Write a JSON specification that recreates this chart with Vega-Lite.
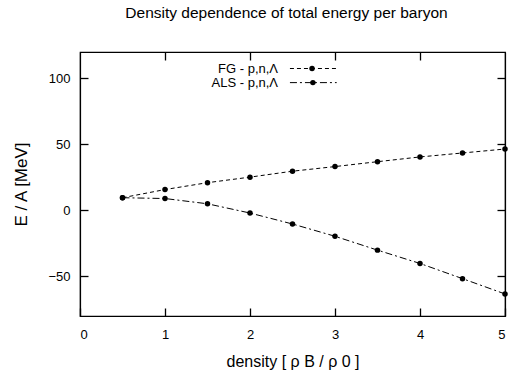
{
  "$schema": "https://vega.github.io/schema/vega-lite/v6.json",
  "autosize": "none",
  "width": 425,
  "height": 264,
  "padding": {"left": 80, "top": 52, "right": 4, "bottom": 60},
  "background": "white",
  "title": {"text": "Density dependence of total energy per baryon", "fontSize": 15.5, "fontWeight": "normal", "font": "Liberation Sans", "color": "black", "offset": 30, "anchor": "middle", "dx": -6},
  "config": {
    "font": "Liberation Sans",
    "view": {"stroke": "black", "strokeWidth": 1.2},
    "axis": {"domainColor": "black", "tickColor": "black", "labelColor": "black", "titleColor": "black", "grid": false, "labelFont": "Liberation Sans", "titleFont": "Liberation Sans", "labelFontSize": 13, "titleFontSize": 16, "titleFontWeight": "normal", "domainWidth": 1.2, "tickWidth": 1.3}
  },
  "datasets": {
    "curves": [
      {"series": "FG", "density": 0.5, "energy": 9.6},
      {"series": "FG", "density": 1.0, "energy": 15.8},
      {"series": "FG", "density": 1.5, "energy": 21.0},
      {"series": "FG", "density": 2.0, "energy": 25.2},
      {"series": "FG", "density": 2.5, "energy": 29.7},
      {"series": "FG", "density": 3.0, "energy": 33.2},
      {"series": "FG", "density": 3.5, "energy": 36.9},
      {"series": "FG", "density": 4.0, "energy": 40.5},
      {"series": "FG", "density": 4.5, "energy": 43.5},
      {"series": "FG", "density": 5.0, "energy": 46.5},
      {"series": "ALS", "density": 0.5, "energy": 9.6},
      {"series": "ALS", "density": 1.0, "energy": 9.0},
      {"series": "ALS", "density": 1.5, "energy": 5.0},
      {"series": "ALS", "density": 2.0, "energy": -2.0},
      {"series": "ALS", "density": 2.5, "energy": -10.3},
      {"series": "ALS", "density": 3.0, "energy": -19.6},
      {"series": "ALS", "density": 3.5, "energy": -30.1},
      {"series": "ALS", "density": 4.0, "energy": -40.2},
      {"series": "ALS", "density": 4.5, "energy": -51.7},
      {"series": "ALS", "density": 5.0, "energy": -63.3}
    ],
    "legend": [
      {"series": "FG", "label": "FG - p,n,Λ", "xtext": 2.33, "xstart": 2.47, "xend": 3.02, "xpoint": 2.73, "y": 107.5},
      {"series": "ALS", "label": "ALS - p,n,Λ", "xtext": 2.33, "xstart": 2.47, "xend": 3.02, "xpoint": 2.74, "y": 96.8}
    ]
  },
  "layer": [
    {
      "data": {"name": "curves"},
      "mark": {"type": "line", "color": "black", "strokeWidth": 1},
      "encoding": {
        "x": {"field": "density", "type": "quantitative", "scale": {"domain": [0, 5], "nice": false, "zero": false},
              "axis": {"orient": "bottom", "values": [0, 1, 2, 3, 4, 5], "tickSize": -8, "labelPadding": 20, "title": "density [ ρ B / ρ 0 ]", "titlePadding": 12}},
        "y": {"field": "energy", "type": "quantitative", "scale": {"domain": [-80, 120], "nice": false, "zero": false},
              "axis": {"orient": "left", "values": [-50, 0, 50, 100], "tickSize": -8, "labelPadding": 18, "title": "E / A [MeV]", "titlePadding": 17, "titleFontSize": 17}},
        "detail": {"field": "series"},
        "strokeDash": {"field": "series", "type": "nominal", "scale": {"domain": ["FG", "ALS"], "range": [[4, 3], [7, 3, 2, 3]]}, "legend": null}
      }
    },
    {
      "data": {"name": "curves"},
      "mark": {"type": "point", "filled": true, "color": "black", "size": 30, "opacity": 1},
      "encoding": {
        "x": {"field": "density", "type": "quantitative", "axis": null},
        "y": {"field": "energy", "type": "quantitative", "axis": null}
      }
    },
    {
      "data": {"name": "curves"},
      "mark": {"type": "point", "opacity": 0},
      "encoding": {
        "x": {"field": "density", "type": "quantitative", "axis": {"orient": "top", "values": [1, 2, 3, 4], "tickSize": -8, "labels": false, "title": null}},
        "y": {"field": "energy", "type": "quantitative", "axis": {"orient": "right", "values": [-50, 0, 50, 100], "tickSize": -8, "labels": false, "title": null}}
      }
    },
    {
      "data": {"name": "legend"},
      "mark": {"type": "rule", "color": "black", "strokeWidth": 1},
      "encoding": {
        "x": {"field": "xstart", "type": "quantitative", "axis": null},
        "x2": {"field": "xend"},
        "y": {"field": "y", "type": "quantitative", "axis": null},
        "strokeDash": {"field": "series", "type": "nominal", "legend": null}
      }
    },
    {
      "data": {"name": "legend"},
      "mark": {"type": "point", "filled": true, "color": "black", "size": 30, "opacity": 1},
      "encoding": {
        "x": {"field": "xpoint", "type": "quantitative", "axis": null},
        "y": {"field": "y", "type": "quantitative", "axis": null}
      }
    },
    {
      "data": {"name": "legend"},
      "mark": {"type": "text", "align": "right", "baseline": "middle", "fontSize": 13, "color": "black", "font": "Liberation Sans"},
      "encoding": {
        "x": {"field": "xtext", "type": "quantitative", "axis": null},
        "y": {"field": "y", "type": "quantitative", "axis": null},
        "text": {"field": "label"}
      }
    }
  ],
  "resolve": {"axis": {"x": "independent", "y": "independent"}}
}
